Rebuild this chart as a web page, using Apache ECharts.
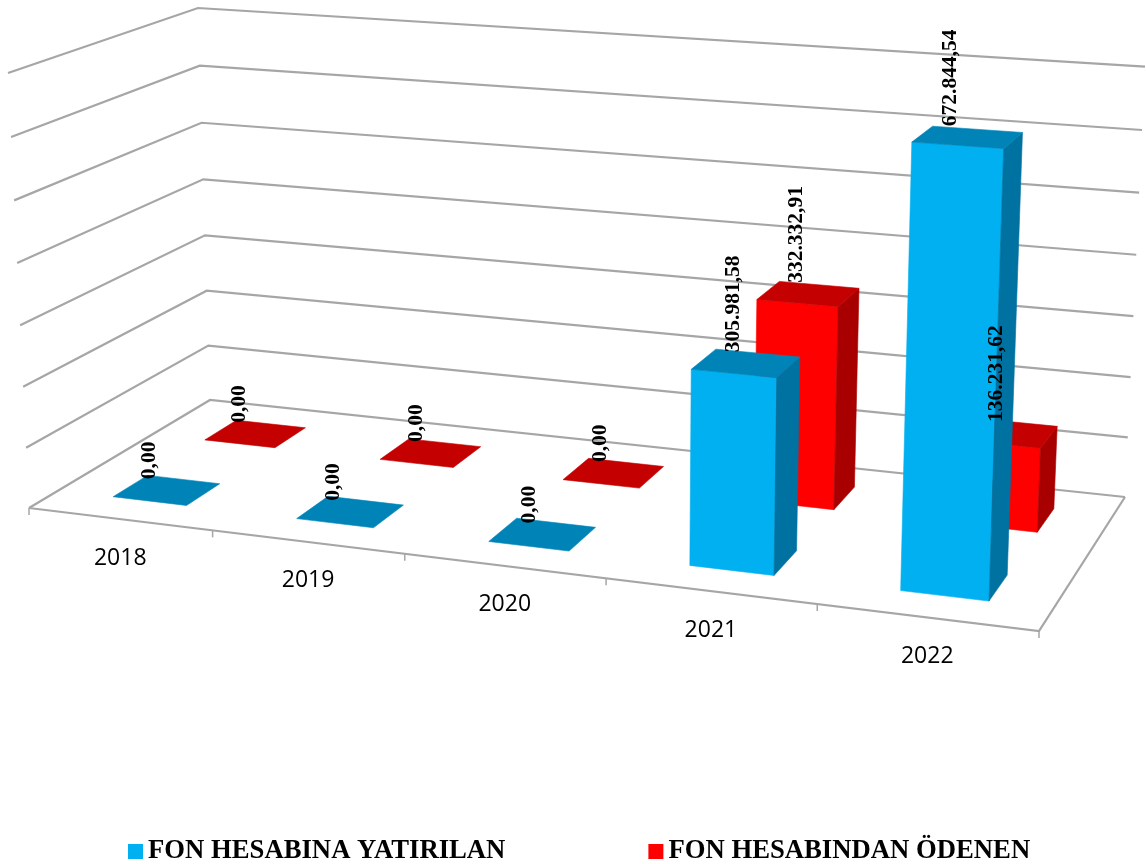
<!DOCTYPE html>
<html><head><meta charset="utf-8">
<style>html,body{margin:0;padding:0;background:#fff}#c{width:1146px;height:864px}</style>
<script src="https://cdn.jsdelivr.net/npm/echarts@6/dist/echarts.min.js"></script>
</head><body><div id="c"></div>
<script>
const categories = ['2018','2019','2020','2021','2022'];
const yatirilan = [0, 0, 0, 305981.58, 672844.54];
const odenen = [0, 0, 0, 332332.91, 136231.62];
const levels = [0, 100000, 200000, 300000, 400000, 500000, 600000, 700000];
const seriesNames = ['FON HESABINA YATIRILAN', 'FON HESABINDAN ÖDENEN'];

// Perspective frame of the 3-D box (view definition, not data)
const floorCorners = [[29,508],[1039,631],[1125,497],[210,400]];
const topCorners = [[8,73],[1056.5,148],[1145,66.7],[198,8]];
const heightPersp = 1.035;
const barHalfU = 0.0405;
const barShiftU = 0.0015;
const depthBands = [[0.15,0.335],[0.66,0.85]];
const labelNudge = [[-17,-17,-13,-12,-17],[-16,-14,-13,-12,-11]];
const palette = [
  {front:'#00B0F0', top:'#0084B8', side:'#0072A2'},
  {front:'#FF0000', top:'#C40000', side:'#A80000'}
];
const GRID = '#A6A6A6';

function homography(q){
  const [A,B,C,D]=q;
  const dx1=B[0]-C[0],dy1=B[1]-C[1],dx2=D[0]-C[0],dy2=D[1]-C[1];
  const sx=A[0]-B[0]+C[0]-D[0],sy=A[1]-B[1]+C[1]-D[1];
  const det=dx1*dy2-dy1*dx2;
  const g=(sx*dy2-sy*dx2)/det,h=(dx1*sy-dy1*sx)/det;
  const a=B[0]*(1+g)-A[0],b=D[0]*(1+h)-A[0],d=B[1]*(1+g)-A[1],e=D[1]*(1+h)-A[1];
  return (u,v)=>{const w=1+g*u+h*v;return [(a*u+b*v+A[0])/w,(d*u+e*v+A[1])/w];};
}
const floorH=homography(floorCorners), topH=homography(topCorners);
function project(u,v,h){
  const t=h/(h+heightPersp*(1-h));
  const f=floorH(u,v),p=topH(u,v);
  return [f[0]+(p[0]-f[0])*t,f[1]+(p[1]-f[1])*t];
}
// axis-driven normalised position of a [category, value] pair
function norm(params,api,cat,val){
  const r=params.coordSys,c=api.coord([cat,val]);
  return {u:(c[0]-r.x)/r.width,h:(r.y+r.height-c[1])/r.height};
}
function poly(points,color){
  return {type:'polygon',shape:{points},style:{fill:color,stroke:color,lineWidth:0.6}};
}
function barRenderer(si){
  return function(params,api){
    const n=norm(params,api,api.value(0),api.value(1));
    const [v0,v1]=depthBands[si],u0=n.u+barShiftU-barHalfU,u1=n.u+barShiftU+barHalfU,c=palette[si],children=[];
    if(n.h>0){
      children.push(poly([project(u0,v0,0),project(u1,v0,0),project(u1,v0,n.h),project(u0,v0,n.h)],c.front));
      children.push(poly([project(u1,v0,0),project(u1,v1,0),project(u1,v1,n.h),project(u1,v0,n.h)],c.side));
    }
    children.push(poly([project(u0,v0,n.h),project(u1,v0,n.h),project(u1,v1,n.h),project(u0,v1,n.h)],c.top));
    return {type:'group',children};
  };
}
function labelRenderer(si){
  return function(params,api){
    const i=api.value(0),n=norm(params,api,i,api.value(1));
    const [v0,v1]=depthBands[si],p=project(n.u+barShiftU,(v0+v1)/2,n.h);
    return {type:'text',x:p[0]+labelNudge[si][i],y:p[1]-11,rotation:Math.PI/2,
      style:{text:fmt(api.value(1)),textAlign:'left',textVerticalAlign:'middle',
        fill:'#000',font:'bold 21.5px "Liberation Serif"'}};
  };
}
function fmt(v){
  const [i,d]=v.toFixed(2).split('.');
  return i.replace(/\B(?=(\d{3})+$)/g,'.')+','+d;
}
function line(points,w){
  return {type:'polyline',shape:{points},style:{fill:null,stroke:GRID,lineWidth:w||2.2}};
}
function frameRenderer(params,api){
  const h=norm(params,api,0,api.value(0)).h,children=[
    line([project(0,0,h),project(0,1,h),project(1,1,h)])
  ];
  if(h===0) children.push(line([project(0,0,0),project(1,0,0),project(1,1,0)]));
  return {type:'group',children};
}
function categoryRenderer(params,api){
  const i=api.value(0),n=norm(params,api,i,0);
  const step=1/categories.length,children=[];
  const tick=u=>{const p=project(u,0,0);children.push(line([p,[p[0],p[1]+7]],1.5));};
  tick(n.u-step/2);
  if(i===categories.length-1) tick(n.u+step/2);
  const p=project(n.u,0,0);
  children.push({type:'text',x:p[0]+0.5,y:p[1]+39,style:{text:categories[i],textAlign:'center',textVerticalAlign:'middle',fill:'#000',font:'23px "Open Sans"'}});
  return {type:'group',children};
}
const pairs=a=>a.map((v,i)=>[i,v]);
const chart=echarts.init(document.getElementById('c'),null,{renderer:'canvas'});
chart.setOption({
  animation:false,
  backgroundColor:'#fff',
  grid:{left:0,right:0,top:0,bottom:0},
  xAxis:{type:'category',data:categories,show:false},
  yAxis:{type:'value',min:0,max:700000,interval:100000,show:false},
  legend:{
    data:seriesNames,left:128,top:838,padding:0,itemWidth:15,itemHeight:15,itemGap:143,icon:'rect',
    textStyle:{color:'#000',fontFamily:'Liberation Serif',fontWeight:'bold',fontSize:26.7},
    selectedMode:false
  },
  series:[
    {type:'custom',name:'frame',z:1,silent:true,data:levels.map(v=>[v]),encode:{y:0},renderItem:frameRenderer},
    {type:'custom',name:'cats',z:1,silent:true,data:categories.map((c,i)=>[i]),encode:{x:0},renderItem:categoryRenderer},
    {type:'custom',name:seriesNames[0],z:4,data:pairs(yatirilan),encode:{x:0,y:1},itemStyle:{color:palette[0].front},renderItem:barRenderer(0)},
    {type:'custom',name:seriesNames[1],z:3,data:pairs(odenen),encode:{x:0,y:1},itemStyle:{color:palette[1].front},renderItem:barRenderer(1)},
    {type:'custom',name:'labels0',z:6,silent:true,data:pairs(yatirilan),encode:{x:0,y:1},renderItem:labelRenderer(0)},
    {type:'custom',name:'labels1',z:6,silent:true,data:pairs(odenen),encode:{x:0,y:1},renderItem:labelRenderer(1)}
  ]
});
</script></body></html>
